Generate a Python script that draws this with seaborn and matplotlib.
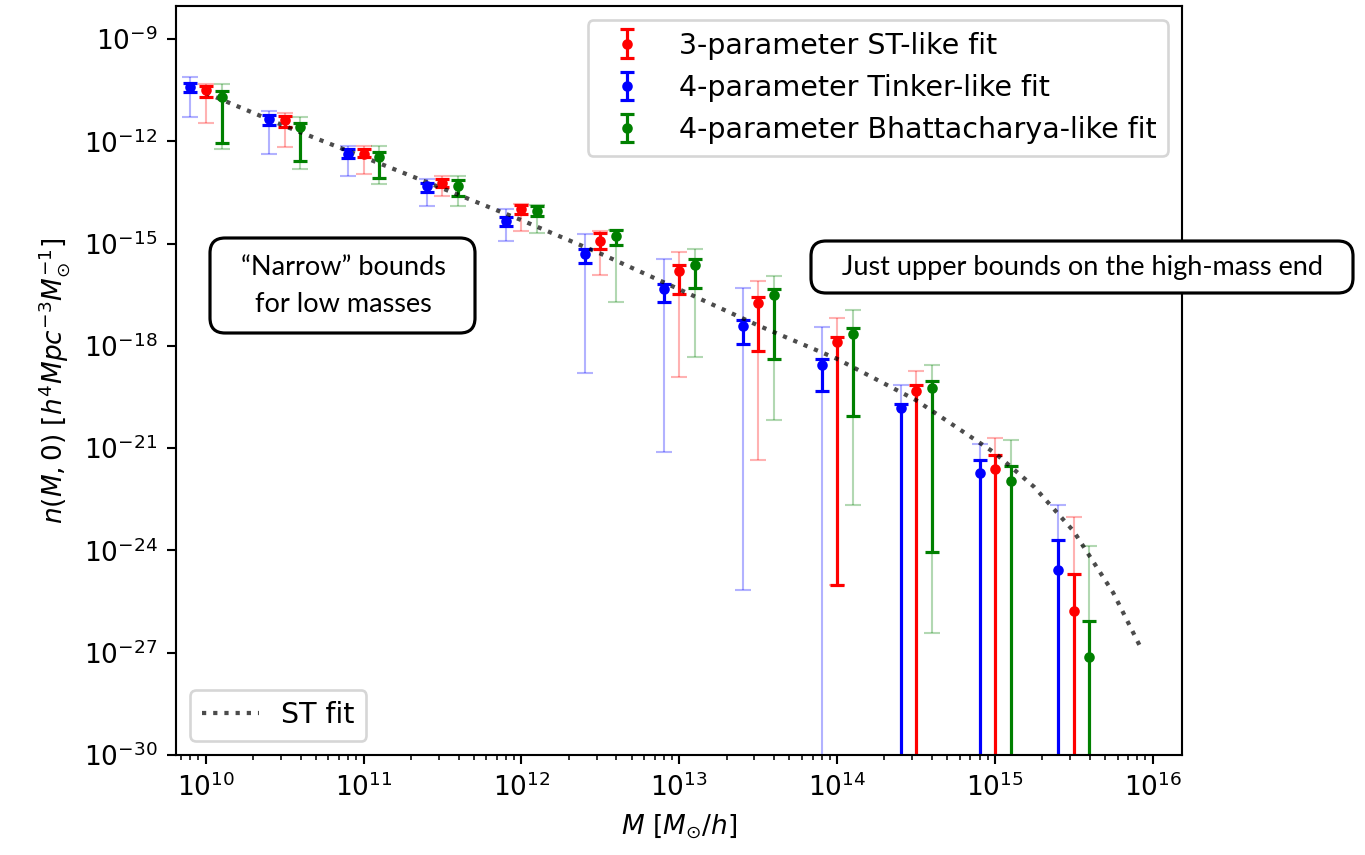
import numpy as np
import matplotlib
matplotlib.use("Agg")
import matplotlib.pyplot as plt
import seaborn as sns
from matplotlib.patches import FancyBboxPatch
from matplotlib.ticker import FixedLocator, LogFormatterSciNotation, LogLocator, NullFormatter, NullLocator

# ---------------- data (log10 of n(M,0); -40 means "below the axis") ----------------
red_mass = [1.0e10, 3.16e10, 1.0e11, 3.16e11, 1.0e12, 3.16e12, 1.0e13, 3.16e13, 1.0e14, 3.16e14, 1.0e15, 3.16e15]
blue_mass = [8.0e9, 2.53e10, 8.0e10, 2.53e11, 8.0e11, 2.53e12, 8.0e12, 2.53e13, 8.0e13, 2.53e14, 8.0e14, 2.53e15]
green_mass = [1.26e10, 3.98e10, 1.26e11, 3.98e11, 1.26e12, 3.98e12, 1.26e13, 3.98e13, 1.26e14, 3.98e14, 1.26e15, 3.98e15]

red_log = [-10.49, -11.38, -12.36, -13.21, -13.99, -14.92, -15.80, -16.75, -17.90, -19.33, -21.60, -25.77]
red_hi = [-10.37, -11.25, -12.21, -13.09, -13.87, -14.68, -15.64, -16.58, -17.73, -19.16, -21.21, -24.69]
red_lo = [-10.71, -11.59, -12.47, -13.35, -14.14, -15.17, -16.49, -18.15, -25.00, -40, -40, -40]
red_hi_faint = [-10.32, -11.17, -12.15, -13.03, -13.84, -14.63, -15.26, -16.10, -17.19, -18.74, -20.69, -23.03]
red_lo_faint = [-11.47, -12.18, -12.96, -13.60, -14.63, -15.93, -18.91, -21.36, -25.00, -40, -40, -40]

blue_log = [-10.42, -11.35, -12.36, -13.31, -14.33, -15.31, -16.34, -17.42, -18.56, -19.81, -21.72, -24.58]
blue_hi = [-10.29, -11.23, -12.23, -13.21, -14.21, -15.17, -16.19, -17.24, -18.37, -19.70, -21.36, -23.68]
blue_lo = [-10.54, -11.52, -12.49, -13.48, -14.48, -15.58, -16.71, -17.95, -19.33, -40, -40, -40]
blue_hi_faint = [-10.10, -11.12, -12.15, -13.09, -13.99, -14.73, -15.46, -16.29, -17.46, -19.16, -20.89, -22.67]
blue_lo_faint = [-11.30, -12.36, -13.03, -13.91, -14.92, -18.79, -21.12, -25.15, -40, -40, -40, -40]

green_log = [-10.71, -11.59, -12.46, -13.31, -14.04, -14.79, -15.64, -16.52, -17.66, -19.23, -21.97, -27.14]
green_hi = [-10.52, -11.47, -12.31, -13.13, -13.91, -14.60, -15.46, -16.34, -17.48, -19.03, -21.53, -26.06]
green_lo = [-12.06, -12.59, -13.08, -13.60, -14.19, -15.05, -16.29, -18.37, -20.06, -24.04, -40, -40]
green_hi_faint = [-10.32, -11.30, -12.15, -13.03, -13.87, -14.60, -15.17, -15.95, -16.96, -18.57, -20.77, -23.88]
green_lo_faint = [-12.21, -12.82, -13.26, -13.91, -14.68, -16.71, -18.32, -20.16, -22.67, -26.42, -40, -40]

st_logm = [10.0, 10.5, 11.0, 11.5, 12.0, 12.5, 13.0, 13.5, 14.0, 14.5, 15.0, 15.25, 15.5, 15.75, 15.92]
st_logn = [-10.58, -11.55, -12.46, -13.38, -14.31, -15.29, -16.34, -17.40, -18.38, -19.59, -21.14, -22.14, -23.44, -25.24, -26.81]

labels = ["3-parameter ST-like fit", "4-parameter Tinker-like fit", "4-parameter Bhattacharya-like fit"]
y_ticks_exp = [-9, -12, -15, -18, -21, -24, -27, -30]
x_ticks_exp = [10, 11, 12, 13, 14, 15, 16]

# ---------------- figure ----------------
DPI = 190
W, H = 1365, 855
fig = plt.figure(figsize=(W / DPI, H / DPI), dpi=DPI)
ax = fig.add_axes([176 / W, 1 - 755 / H, (1182 - 176) / W, (755 - 6) / H])
ax.set_xscale("log")
ax.set_yscale("log")

def p10(a):
    return 10.0 ** np.asarray(a, dtype=float)

series = [
    (red_mass, red_log, red_hi, red_lo, red_hi_faint, red_lo_faint, "red"),
    (blue_mass, blue_log, blue_hi, blue_lo, blue_hi_faint, blue_lo_faint, "blue"),
    (green_mass, green_log, green_hi, green_lo, green_hi_faint, green_lo_faint, "green"),
]

# faint (wide) bounds first
for mass, c, hi, lo, hif, lof, col in series:
    cv = p10(c)
    ax.errorbar(mass, cv, yerr=[cv - p10(lof), p10(hif) - cv], fmt="none",
                ecolor=col, alpha=0.3, elinewidth=0.8, capsize=3.2, capthick=0.8)

handles = []
for mass, c, hi, lo, hif, lof, col in series:
    cv = p10(c)
    cont = ax.errorbar(mass, cv, yerr=[cv - p10(lo), p10(hi) - cv], fmt=".",
                       color=col, elinewidth=1.2, capsize=2.5, capthick=1.2)
    handles.append(cont)

# ST fit line via seaborn
sns.lineplot(x=p10(st_logm), y=p10(st_logn), ax=ax, color="k", alpha=0.7,
             linestyle=":", linewidth=1.6, legend=False, sort=False)
st_line = ax.lines[-1]

ax.set_xlim(10 ** 9.812, 10 ** 16.186)
ax.set_ylim(1e-30, 10 ** -8.03)

ax.yaxis.set_major_locator(FixedLocator([10.0 ** e for e in y_ticks_exp]))
ax.yaxis.set_major_formatter(LogFormatterSciNotation())
ax.yaxis.set_minor_locator(NullLocator())
ax.xaxis.set_major_locator(FixedLocator([10.0 ** e for e in x_ticks_exp]))
ax.xaxis.set_major_formatter(LogFormatterSciNotation())
ax.xaxis.set_minor_locator(LogLocator(base=10, subs=np.arange(2, 10), numticks=100))
ax.xaxis.set_minor_formatter(NullFormatter())

ax.set_xlabel(r"$M\ [M_{\odot}/h]$")
ax.set_ylabel(r"$n(M,0)\ [h^4Mpc^{-3}M_{\odot}^{-1}]$")

leg1 = ax.legend(handles, labels, loc="upper right", fontsize=10.8)
ax.add_artist(leg1)
ax.legend([st_line], ["ST fit"], loc="lower left", fontsize=10.8)

# ---------------- annotation boxes (figure coordinates) ----------------
aspect = W / H
def box(x0, y0, x1, y1):
    p = FancyBboxPatch((x0 / W, 1 - y1 / H), (x1 - x0) / W, (y1 - y0) / H,
                       boxstyle="round,pad=0,rounding_size=0.011", mutation_aspect=aspect,
                       transform=fig.transFigure, facecolor="white", edgecolor="black",
                       linewidth=1.2, zorder=10)
    fig.add_artist(p)

box(210, 238, 475, 333)
box(811, 241, 1353, 293)
fig.text(343 / W, 1 - 286 / H, "\u201cNarrow\u201d bounds\nfor low masses", ha="center", va="center",
         fontsize=10.3, family="Lato", linespacing=1.6, zorder=11)
fig.text(1082 / W, 1 - 267 / H, "Just upper bounds on the high-mass end", ha="center", va="center",
         fontsize=10.3, family="Lato", zorder=11)

fig.savefig("out.png", dpi=DPI)
